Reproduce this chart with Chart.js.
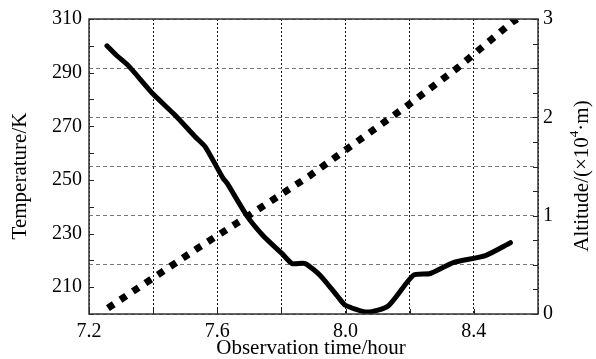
<!DOCTYPE html>
<html>
<head>
<meta charset="utf-8">
<script src="https://cdn.jsdelivr.net/npm/chart.js@4.4.1/dist/chart.umd.min.js"></script>
<style>
  html, body { margin: 0; padding: 0; background: #fff; }
  #wrap { width: 596px; height: 359px; position: relative; }
</style>
</head>
<body>
<div id="wrap"><canvas id="tempChart"></canvas></div>
<script>
// temperature (solid line), K
const tempTime = [7.256, 7.287, 7.322, 7.400, 7.468, 7.531, 7.562, 7.618, 7.631, 7.693, 7.743, 7.802,
                  7.833, 7.874, 7.921, 7.977, 7.999, 8.067, 8.133, 8.211, 8.264, 8.336, 8.436, 8.514];
const tempK = [300.0, 296.3, 292.7, 282.0, 274.2, 266.1, 262.4, 250.6, 248.7, 236.5, 229.2, 222.5,
               218.8, 218.8, 214.4, 206.3, 203.3, 200.7, 203.0, 214.4, 215.1, 219.2, 221.8, 226.6];

// altitude (dotted line), x10^4 m
const altTime = [7.259, 7.537, 7.696, 7.890, 8.005, 8.195, 8.348, 8.520, 8.535];
const altValue = [0.06, 0.665, 0.997, 1.41, 1.68, 2.125, 2.50, 2.97, 3.0];

// axis ticks
const timeGrid = [7.2, 7.4, 7.6, 7.8, 8.0, 8.2, 8.4, 8.6];
const timeLabels = [7.2, 7.6, 8.0, 8.4];
const tempLabels = [210, 230, 250, 270, 290, 310];
const tempMinor = [200, 210, 220, 230, 240, 250, 260, 270, 280, 290, 300, 310];
const altGrid = [0, 0.5, 1, 1.5, 2, 2.5, 3];
const altLabels = [0, 1, 2, 3];
const altMinor = [0, 0.25, 0.5, 0.75, 1, 1.25, 1.5, 1.75, 2, 2.25, 2.5, 2.75, 3];

const FONT = '"Liberation Serif", "Times New Roman", serif';

function has(list, v) {
    return list.some(x => Math.abs(x - v) < 1e-6);
}

// draws text pieces (for the superscript) centred on x,y, optionally rotated
function drawRich(ctx, parts, x, y, rot) {
    ctx.save();
    ctx.translate(x, y);
    ctx.rotate(rot);
    let total = 0;
    parts.forEach(p => {
        ctx.font = p.size + 'px ' + FONT;
        total += ctx.measureText(p.text).width;
    });
    let cx = -total / 2;
    ctx.textBaseline = 'middle';
    ctx.textAlign = 'left';
    ctx.fillStyle = '#000';
    parts.forEach(p => {
        ctx.font = p.size + 'px ' + FONT;
        ctx.fillText(p.text, cx, p.dy || 0);
        cx += ctx.measureText(p.text).width;
    });
    ctx.restore();
}

const frameAndTitles = {
    id: 'frameAndTitles',
    afterDraw(chart) {
        const { ctx, chartArea: a, scales } = chart;
        ctx.save();
        // inward tick marks
        ctx.strokeStyle = '#222';
        ctx.lineWidth = 1;
        ctx.beginPath();
        tempMinor.forEach(v => {
            const y = Math.round(scales.y.getPixelForValue(v)) + 0.5;
            ctx.moveTo(a.left, y); ctx.lineTo(a.left + 5, y);
        });
        altMinor.forEach(v => {
            const y = Math.round(scales.y1.getPixelForValue(v)) + 0.5;
            ctx.moveTo(a.right, y); ctx.lineTo(a.right - 5, y);
        });
        timeGrid.forEach(v => {
            const x = Math.round(scales.x.getPixelForValue(v)) + 0.5;
            ctx.moveTo(x, a.bottom); ctx.lineTo(x, a.bottom - 5);
        });
        ctx.stroke();
        // frame
        ctx.lineWidth = 1.5;
        ctx.strokeStyle = '#333';
        ctx.strokeRect(a.left, a.top, a.right - a.left, a.bottom - a.top);
        ctx.restore();

        // axis titles
        drawRich(ctx, [{ text: 'Temperature/K', size: 21 }], 20, 176, -Math.PI / 2);
        drawRich(ctx, [{ text: 'Observation time/hour', size: 21 }], 311, 348, 0);
        drawRich(ctx, [
            { text: 'Altitude/(×10', size: 21 },
            { text: '4', size: 13, dy: -7 },
            { text: '·m)', size: 21 }
        ], 582, 176, -Math.PI / 2);
    }
};

const ctx = document.getElementById('tempChart').getContext('2d');
new Chart(ctx, {
    type: 'line',
    data: {
        datasets: [
            {
                label: 'Temperature',
                data: tempTime.map((t, i) => ({ x: t, y: tempK[i] })),
                yAxisID: 'y',
                borderColor: '#000',
                borderWidth: 5,
                borderJoinStyle: 'round',
                borderCapStyle: 'round',
                pointRadius: 0,
                tension: 0.2
            },
            {
                label: 'Altitude',
                data: altTime.map((t, i) => ({ x: t, y: altValue[i] })),
                yAxisID: 'y1',
                borderColor: '#000',
                borderWidth: 7,
                borderDash: [7, 8],
                pointRadius: 0,
                tension: 0
            }
        ]
    },
    options: {
        responsive: true,
        maintainAspectRatio: false,
        animation: false,
        layout: { padding: { top: 16, left: 0, right: 0, bottom: 0 } },
        plugins: {
            legend: { display: false },
            tooltip: { enabled: false }
        },
        scales: {
            x: {
                type: 'linear',
                min: 7.2,
                max: 8.6,
                afterBuildTicks: s => { s.ticks = timeGrid.map(v => ({ value: v })); },
                afterFit: s => { s.height = 45; },
                ticks: {
                    autoSkip: false,
                    maxRotation: 0,
                    padding: 6,
                    color: '#000',
                    font: { family: FONT, size: 20 },
                    callback: v => has(timeLabels, v) ? v.toFixed(1) : ''
                },
                grid: { color: '#111', lineWidth: 1, drawTicks: false },
                border: { display: false, dash: [2, 2] }
            },
            y: {
                position: 'left',
                min: 200,
                max: 310,
                afterBuildTicks: s => { s.ticks = tempLabels.map(v => ({ value: v })); },
                afterFit: s => { s.width = 89; },
                ticks: {
                    autoSkip: false,
                    padding: 7,
                    color: '#000',
                    font: { family: FONT, size: 20 }
                },
                grid: { display: false, drawTicks: false },
                border: { display: false }
            },
            y1: {
                position: 'right',
                min: 0,
                max: 3,
                afterBuildTicks: s => { s.ticks = altGrid.map(v => ({ value: v })); },
                afterFit: s => { s.width = 58; },
                ticks: {
                    autoSkip: false,
                    padding: 5,
                    color: '#000',
                    font: { family: FONT, size: 20 },
                    callback: v => has(altLabels, v) ? String(v) : ''
                },
                grid: { color: '#777', lineWidth: 1, drawTicks: false },
                border: { display: false, dash: [4, 3] }
            }
        }
    },
    plugins: [frameAndTitles]
});
</script>
</body>
</html>
